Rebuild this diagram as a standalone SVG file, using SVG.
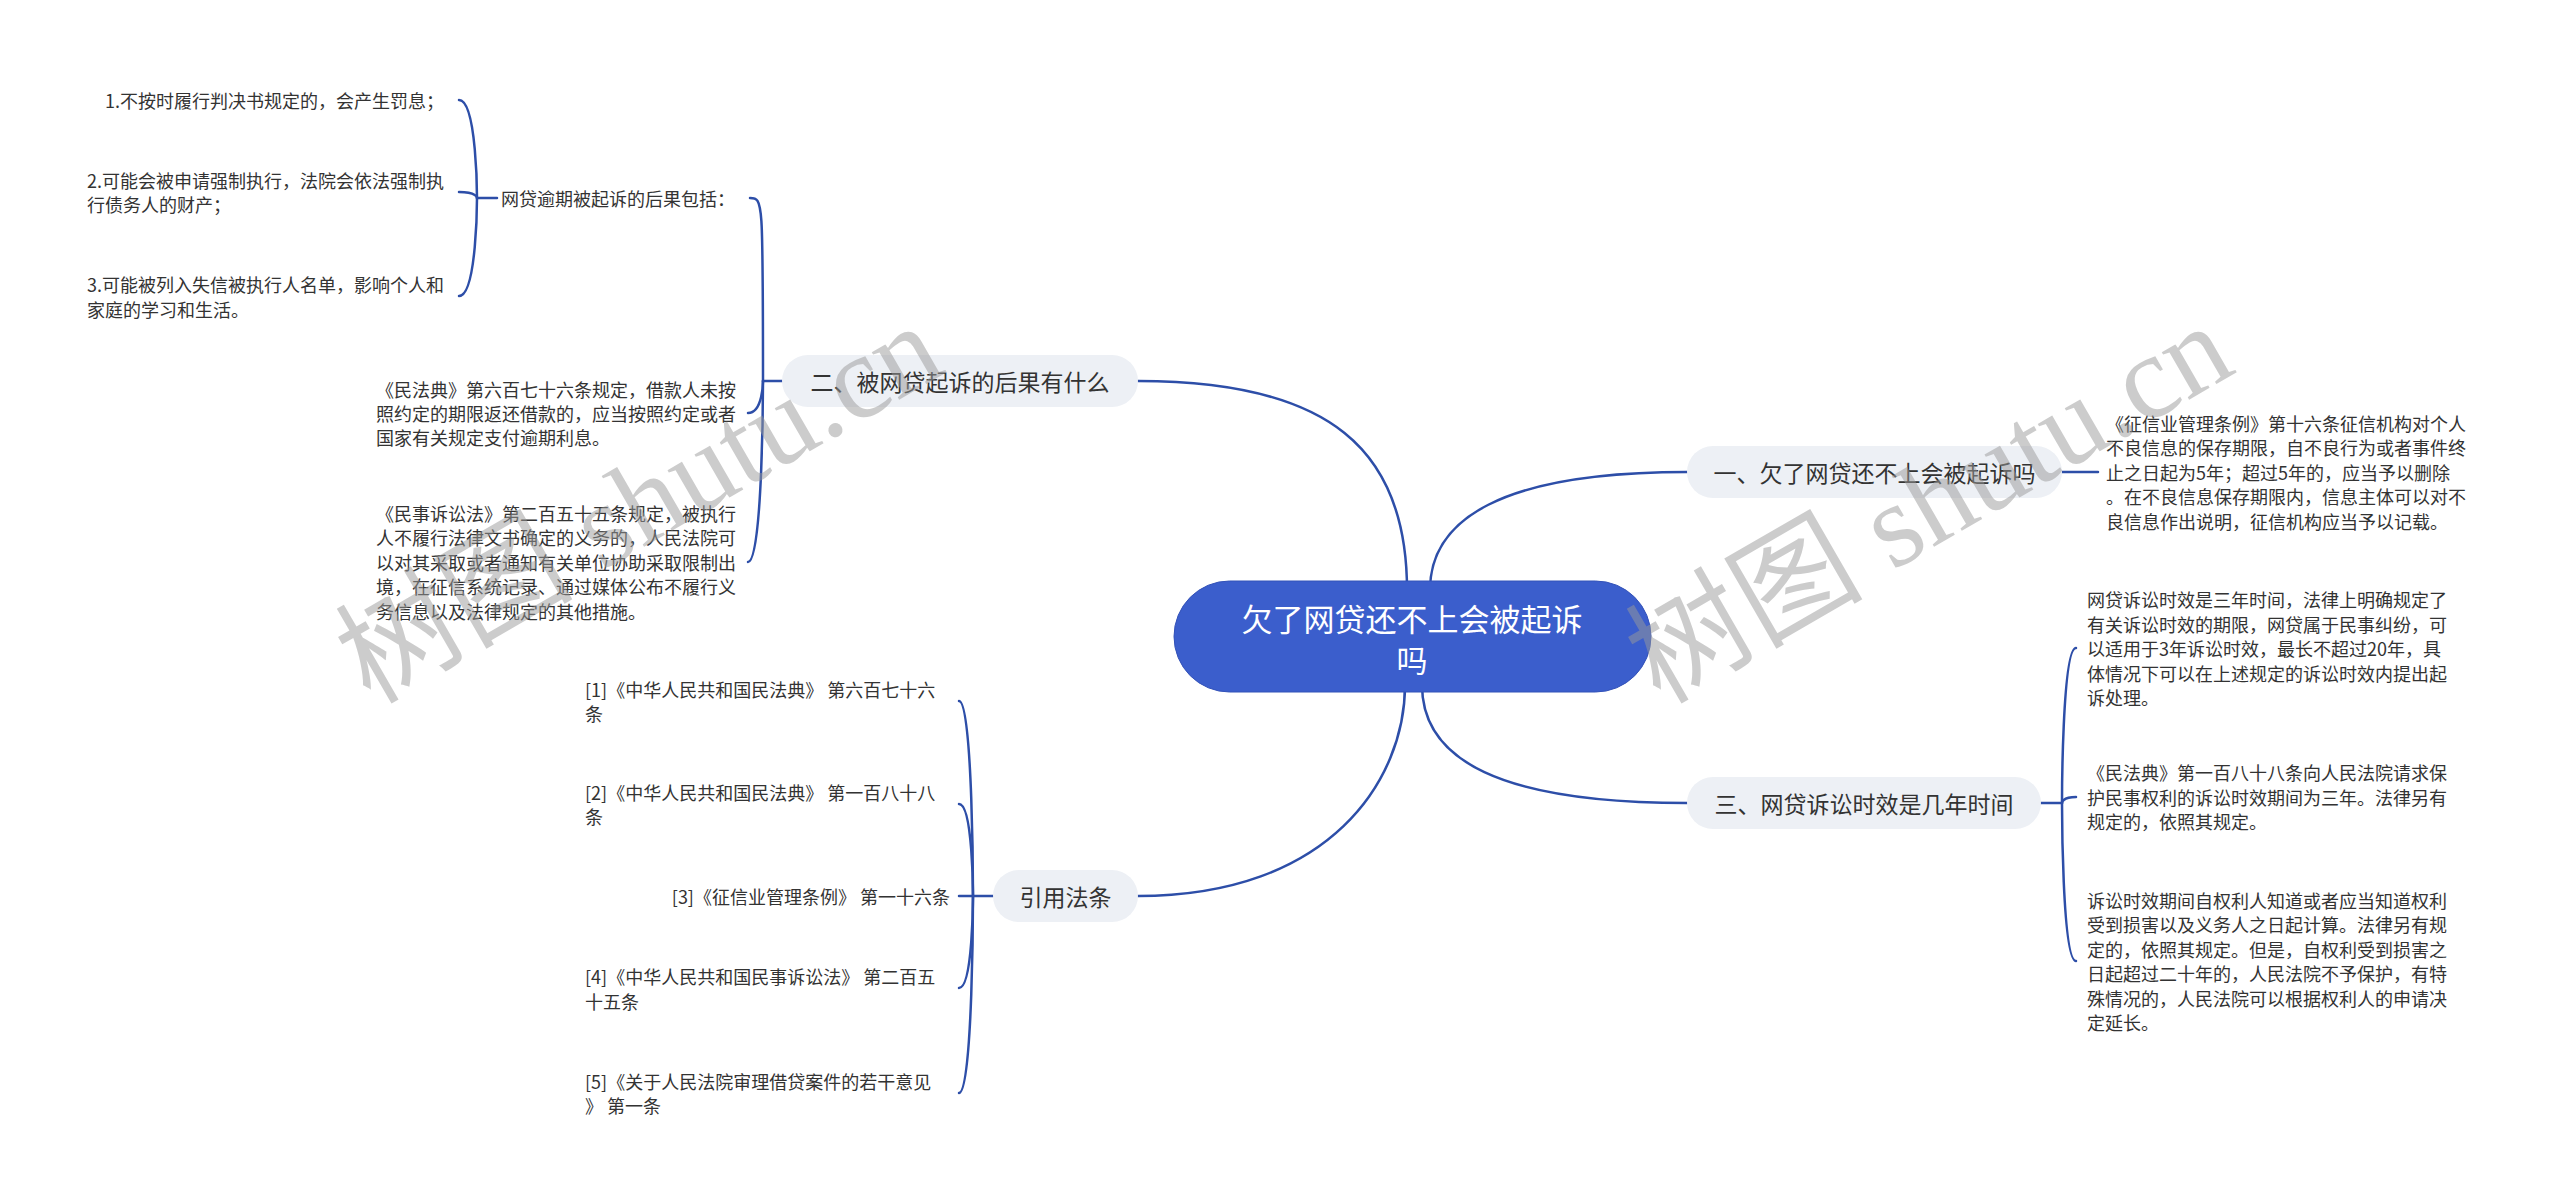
<svg xmlns="http://www.w3.org/2000/svg" width="2560" height="1202" viewBox="0 0 2560 1202">
<style>
.bg{fill:#ffffff}
.ln{fill:none;stroke:#2d4ea8;stroke-width:2.5;stroke-linecap:round}
.pill{fill:#edf0f5}
.root{fill:#3b5ecc;stroke:#3352b8;stroke-width:1}
.rt{font-family:"Noto Sans CJK SC","Noto Sans",sans-serif;font-size:31px;fill:#ffffff;text-anchor:middle;dominant-baseline:central}
.bt{font-family:"Noto Sans CJK SC","Noto Sans",sans-serif;font-size:23px;fill:#333333;text-anchor:middle;dominant-baseline:central}
.lt{font-family:"Noto Sans CJK SC","Noto Sans",sans-serif;font-size:18px;fill:#333333;dominant-baseline:central}
.end{text-anchor:end}
.wm{font-family:"Liberation Serif","Noto Sans CJK SC",serif;font-size:119px;fill:#9a9a9a;opacity:0.5}
</style>
<rect class="bg" x="0" y="0" width="2560" height="1202"/>
<g id="connectors">
  <path class="ln" d="M1138 381 C1330 381 1407 450 1407 590"/>
  <path class="ln" d="M1687 472 C1500 472 1430 520 1430 590"/>
  <path class="ln" d="M1687 803 C1500 803 1422 760 1422 685"/>
  <path class="ln" d="M1138 896 C1330 896 1405 780 1405 685"/>
  <path class="ln" d="M2062 472 L2098 472"/>
  <path class="ln" d="M782 381 L763 381"/>
  <path class="ln" d="M750 198 C763 198 763 198 763 381"/>
  <path class="ln" d="M748 413 C763 413 763 381 763 381"/>
  <path class="ln" d="M748 562 C763 562 763 381 763 381"/>
  <path class="ln" d="M497 198 L477 198"/>
  <path class="ln" d="M459 100 C477 100 477 198 477 198"/>
  <path class="ln" d="M459 192 C477 192 477 198 477 198"/>
  <path class="ln" d="M459 296 C477 296 477 198 477 198"/>
  <path class="ln" d="M993 896 L959 896"/>
  <path class="ln" d="M959 701 C973 701 973 896 973 896"/>
  <path class="ln" d="M959 804 C973 804 973 896 973 896"/>
  <path class="ln" d="M959 988 C973 988 973 896 973 896"/>
  <path class="ln" d="M959 1093 C973 1093 973 896 973 896"/>
  <path class="ln" d="M2041 803 L2062 803"/>
  <path class="ln" d="M2076 648 C2062 648 2062 803 2062 803"/>
  <path class="ln" d="M2076 797 C2062 797 2062 803 2062 803"/>
  <path class="ln" d="M2076 961 C2062 961 2062 803 2062 803"/>
</g>
<g id="root">
  <rect class="root" x="1174" y="581" width="477" height="111" rx="55.5"/>
  <text class="rt" x="1412" y="617">欠了网贷还不上会被起诉</text>
  <text class="rt" x="1412" y="658">吗</text>
</g>
<g id="branch1">
  <rect class="pill" x="1687" y="446" width="375" height="52" rx="26"/>
  <text class="bt" x="1874.5" y="472">一、欠了网贷还不上会被起诉吗</text>
</g>
<g id="branch2">
  <rect class="pill" x="782" y="355" width="356" height="52" rx="26"/>
  <text class="bt" x="960" y="381">二、被网贷起诉的后果有什么</text>
</g>
<g id="branch3">
  <rect class="pill" x="1687" y="777" width="354" height="52" rx="26"/>
  <text class="bt" x="1864" y="803">三、网贷诉讼时效是几年时间</text>
</g>
<g id="branch4">
  <rect class="pill" x="993" y="870" width="145" height="52" rx="26"/>
  <text class="bt" x="1065.5" y="896">引用法条</text>
</g>
<g id="leaf1-1">
  <text class="lt" x="2106" y="423">《征信业管理条例》第十六条征信机构对个人</text>
  <text class="lt" x="2106" y="447">不良信息的保存期限，自不良行为或者事件终</text>
  <text class="lt" x="2106" y="472">止之日起为5年；超过5年的，应当予以删除</text>
  <text class="lt" x="2106" y="496">。在不良信息保存期限内，信息主体可以对不</text>
  <text class="lt" x="2106" y="521">良信息作出说明，征信机构应当予以记载。</text>
</g>
<g id="leaf2-1">
  <text class="lt" x="501" y="198">网贷逾期被起诉的后果包括：</text>
</g>
<g id="leaf2-1-1">
  <text class="lt end" x="444" y="100">1.不按时履行判决书规定的，会产生罚息；</text>
</g>
<g id="leaf2-1-2">
  <text class="lt" x="87" y="180">2.可能会被申请强制执行，法院会依法强制执</text>
  <text class="lt" x="87" y="204">行债务人的财产；</text>
</g>
<g id="leaf2-1-3">
  <text class="lt" x="87" y="284">3.可能被列入失信被执行人名单，影响个人和</text>
  <text class="lt" x="87" y="309">家庭的学习和生活。</text>
</g>
<g id="leaf2-2">
  <text class="lt" x="376" y="389">《民法典》第六百七十六条规定，借款人未按</text>
  <text class="lt" x="376" y="413">照约定的期限返还借款的，应当按照约定或者</text>
  <text class="lt" x="376" y="437">国家有关规定支付逾期利息。</text>
</g>
<g id="leaf2-3">
  <text class="lt" x="376" y="513">《民事诉讼法》第二百五十五条规定，被执行</text>
  <text class="lt" x="376" y="537">人不履行法律文书确定的义务的，人民法院可</text>
  <text class="lt" x="376" y="562">以对其采取或者通知有关单位协助采取限制出</text>
  <text class="lt" x="376" y="586">境，在征信系统记录、通过媒体公布不履行义</text>
  <text class="lt" x="376" y="611">务信息以及法律规定的其他措施。</text>
</g>
<g id="leaf3-1">
  <text class="lt" x="2087" y="599">网贷诉讼时效是三年时间，法律上明确规定了</text>
  <text class="lt" x="2087" y="624">有关诉讼时效的期限，网贷属于民事纠纷，可</text>
  <text class="lt" x="2087" y="648">以适用于3年诉讼时效，最长不超过20年，具</text>
  <text class="lt" x="2087" y="673">体情况下可以在上述规定的诉讼时效内提出起</text>
  <text class="lt" x="2087" y="697">诉处理。</text>
</g>
<g id="leaf3-2">
  <text class="lt" x="2087" y="772">《民法典》第一百八十八条向人民法院请求保</text>
  <text class="lt" x="2087" y="797">护民事权利的诉讼时效期间为三年。法律另有</text>
  <text class="lt" x="2087" y="821">规定的，依照其规定。</text>
</g>
<g id="leaf3-3">
  <text class="lt" x="2087" y="900">诉讼时效期间自权利人知道或者应当知道权利</text>
  <text class="lt" x="2087" y="924">受到损害以及义务人之日起计算。法律另有规</text>
  <text class="lt" x="2087" y="949">定的，依照其规定。但是，自权利受到损害之</text>
  <text class="lt" x="2087" y="973">日起超过二十年的，人民法院不予保护，有特</text>
  <text class="lt" x="2087" y="998">殊情况的，人民法院可以根据权利人的申请决</text>
  <text class="lt" x="2087" y="1022">定延长。</text>
</g>
<g id="leaf4-1">
  <text class="lt" x="585" y="689">[1]《中华人民共和国民法典》 第六百七十六</text>
  <text class="lt" x="585" y="713">条</text>
</g>
<g id="leaf4-2">
  <text class="lt" x="585" y="792">[2]《中华人民共和国民法典》 第一百八十八</text>
  <text class="lt" x="585" y="816">条</text>
</g>
<g id="leaf4-3">
  <text class="lt end" x="950" y="896">[3]《征信业管理条例》 第一十六条</text>
</g>
<g id="leaf4-4">
  <text class="lt" x="585" y="976">[4]《中华人民共和国民事诉讼法》 第二百五</text>
  <text class="lt" x="585" y="1001">十五条</text>
</g>
<g id="leaf4-5">
  <text class="lt" x="585" y="1081">[5]《关于人民法院审理借贷案件的若干意见</text>
  <text class="lt" x="585" y="1105">》 第一条</text>
</g>
<g id="watermark">
  <text class="wm" transform="translate(370,705) rotate(-30)">树图 shutu.cn</text>
  <text class="wm" transform="translate(1660,705) rotate(-30)">树图 shutu.cn</text>
</g>
</svg>
